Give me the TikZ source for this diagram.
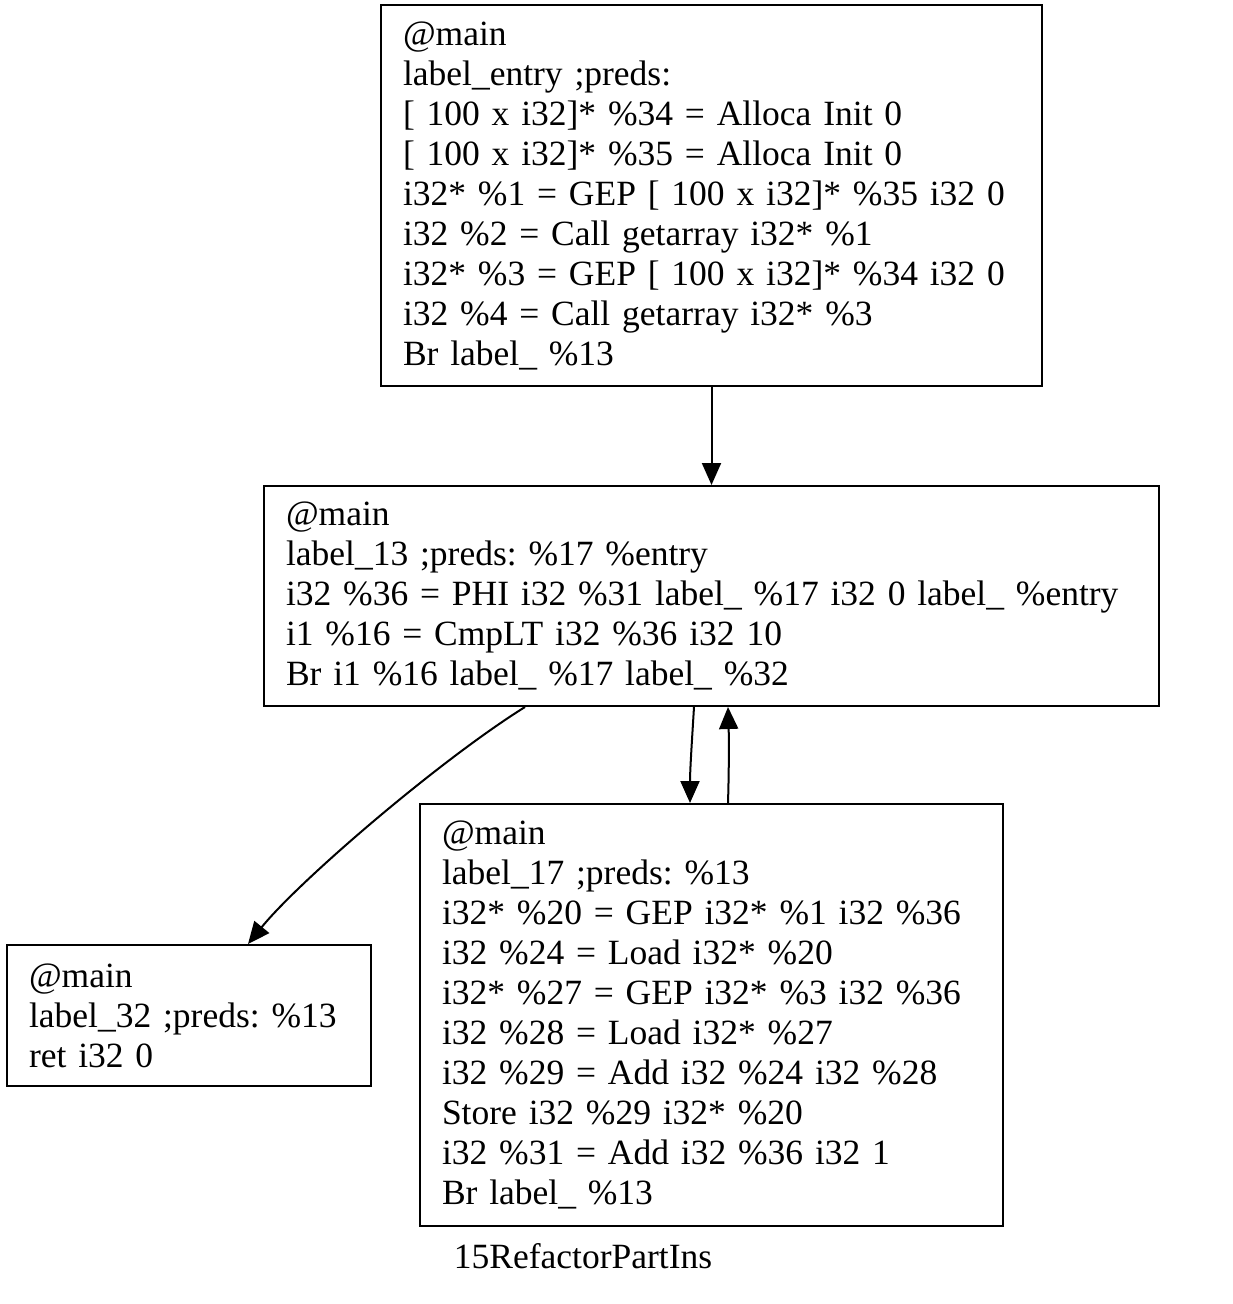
\documentclass[tikz,border=0pt]{standalone}
\usepackage{fontspec}
\setmainfont{Liberation Serif}
\usetikzlibrary{arrows.meta}
\begin{document}
\frenchspacing
\begin{tikzpicture}[x=1pt,y=-1pt,
  box/.style={draw, line width=2pt, anchor=north west, align=left, inner sep=0pt,
    font=\fontsize{35.5}{40}\selectfont\frenchspacing},
  edge/.style={line width=2pt, -{Triangle[length=22pt,width=19pt]}}]
\useasboundingbox[fill=white] (0,0) rectangle (1232,1304);
\node[box, minimum width=661, minimum height=381, text width=617] (b1) at (380,4) {@main\\label\_entry ;preds:\\{[} 100 x i32]* \%34 = Alloca Init 0\\{[} 100 x i32]* \%35 = Alloca Init 0\\i32* \%1 = GEP [ 100 x i32]* \%35 i32 0\\i32 \%2 = Call getarray i32* \%1\\i32* \%3 = GEP [ 100 x i32]* \%34 i32 0\\i32 \%4 = Call getarray i32* \%3\\Br label\_ \%13};
\node[box, minimum width=895, minimum height=220, text width=851] (b2) at (263,485) {@main\\label\_13 ;preds: \%17 \%entry\\i32 \%36 = PHI i32 \%31 label\_ \%17 i32 0 label\_ \%entry\\i1 \%16 = CmpLT i32 \%36 i32 10\\Br i1 \%16 label\_ \%17 label\_ \%32};
\node[box, minimum width=364, minimum height=141, text width=320] (b3) at (6,944) {@main\\label\_32 ;preds: \%13\\ret i32 0};
\node[box, minimum width=583, minimum height=422, text width=539] (b4) at (419,803) {@main\\label\_17 ;preds: \%13\\i32* \%20 = GEP i32* \%1 i32 \%36\\i32 \%24 = Load i32* \%20\\i32* \%27 = GEP i32* \%3 i32 \%36\\i32 \%28 = Load i32* \%27\\i32 \%29 = Add i32 \%24 i32 \%28\\Store i32 \%29 i32* \%20\\i32 \%31 = Add i32 \%36 i32 1\\Br label\_ \%13};
\node[font=\fontsize{35.5}{40}\selectfont] (cap) at (583,1256) {15RefactorPartIns};
\draw[edge] (b1.south) -- (b2.north);
\draw[edge] (b2.south -| 525,0) .. controls (440,760) and (300,880) .. (b3.north -| 248,0);
\draw[edge] (b2.south -| 694,0) .. controls (692,740) and (690,770) .. (b4.north -| 690,0);
\draw[edge] (b4.north -| 728,0) .. controls (729,770) and (729,740) .. (b2.south -| 728,0);
\end{tikzpicture}
\end{document}
